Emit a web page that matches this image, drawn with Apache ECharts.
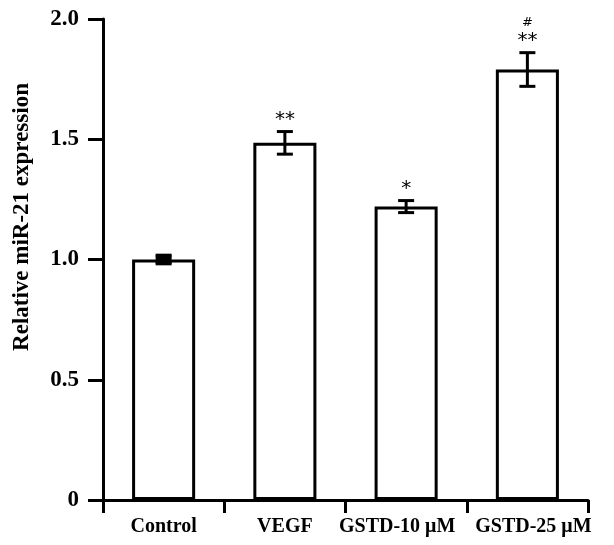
<!DOCTYPE html>
<html>
<head>
<meta charset="utf-8">
<script src="https://cdn.jsdelivr.net/npm/echarts@6/dist/echarts.min.js"></script>
<style>
  html, body { margin: 0; padding: 0; background: #fff; }
  #chart { width: 614px; height: 545px; }
</style>
</head>
<body>
<div id="chart"></div>
<script>
// data
const categories = ['Control', 'VEGF', 'GSTD-10 μM', 'GSTD-25 μM']
const means = [1.0, 1.485, 1.22, 1.79]
const errors = [0.018, 0.047, 0.025, 0.07]
const stars = ['', '**', '*', '**']
const hashes = ['', '', '', '#']
const yTicks = [0, 0.5, 1.0, 1.5, 2.0]

const chart = echarts.init(document.getElementById('chart'))
const serif = '"Liberation Serif", "Times New Roman", serif'

const errData = means.map((m, i) => [i, m - errors[i], m + errors[i], i])

// nudge the two long labels apart like in the figure
const labelPad = [[0, 0, 0, 0], [0, 0, 0, 0], [0, 18, 0, 0], [0, 0, 0, 12]]
const xData = categories.map((c, i) => ({ value: c, textStyle: { padding: labelPad[i] } }))

const option = {
  animation: false,
  grid: { left: 103, right: 26, top: 19, bottom: 45 },
  graphic: [
    {
      type: 'text',
      x: 22,
      y: 217,
      rotation: Math.PI / 2,
      style: {
        text: 'Relative miR-21 expression',
        font: 'bold 23px "Liberation Serif", serif',
        fill: '#000',
        align: 'center',
        verticalAlign: 'middle'
      }
    }
  ],
  xAxis: {
    type: 'category',
    data: xData,
    axisLine: { lineStyle: { color: '#000', width: 3 } },
    axisTick: { show: true, length: 13, alignWithLabel: false, lineStyle: { color: '#000', width: 3 } },
    axisLabel: {
      color: '#000', fontFamily: serif, fontWeight: 'bold', fontSize: 20,
      margin: 17, interval: 0
    }
  },
  yAxis: {
    type: 'value',
    min: 0,
    max: 2,
    interval: 0.5,
    axisLine: { show: true, lineStyle: { color: '#000', width: 3 } },
    axisTick: { show: true, length: 15, lineStyle: { color: '#000', width: 3 } },
    splitLine: { show: false },
    axisLabel: {
      color: '#000', fontFamily: serif, fontWeight: 'bold', fontSize: 23, margin: 24,
      formatter: v => (yTicks.includes(v) ? (v === 0 ? '0' : v.toFixed(1)) : '')
    }
  },
  series: [
    {
      type: 'bar',
      data: means,
      barWidth: '52%',
      itemStyle: { color: '#fff', borderColor: '#000', borderWidth: 3 },
      z: 2
    },
    {
      type: 'custom',
      data: errData,
      z: 3,
      renderItem: (params, api) => {
        const x = api.value(0)
        const idx = api.value(3)
        const lo = api.coord([x, api.value(1)])
        const hi = api.coord([x, api.value(2)])
        const half = 8
        const style = { stroke: '#000', lineWidth: 3 }
        const children = [
          { type: 'line', shape: { x1: lo[0], y1: lo[1], x2: hi[0], y2: hi[1] }, style },
          { type: 'line', shape: { x1: lo[0] - half, y1: lo[1], x2: lo[0] + half, y2: lo[1] }, style },
          { type: 'line', shape: { x1: hi[0] - half, y1: hi[1], x2: hi[0] + half, y2: hi[1] }, style }
        ]
        if (idx === 0) {
          // tiny SEM: drawn as a solid block in the original
          children.push({
            type: 'rect',
            shape: { x: hi[0] - half, y: hi[1], width: half * 2, height: lo[1] - hi[1] },
            style: { fill: '#000' }
          })
        }
        if (stars[idx]) {
          children.push({
            type: 'text',
            style: {
              text: stars[idx], x: hi[0], y: hi[1] - 2,
              align: 'center', verticalAlign: 'bottom',
              font: '20px "DejaVu Sans", sans-serif', fill: '#000'
            }
          })
        }
        if (hashes[idx]) {
          children.push({
            type: 'text',
            style: {
              text: hashes[idx], x: hi[0], y: hi[1] - 24,
              align: 'center', verticalAlign: 'bottom',
              font: '13px "DejaVu Sans", sans-serif', fill: '#000'
            }
          })
        }
        return { type: 'group', children }
      }
    }
  ]
}

chart.setOption(option)
</script>
</body>
</html>
